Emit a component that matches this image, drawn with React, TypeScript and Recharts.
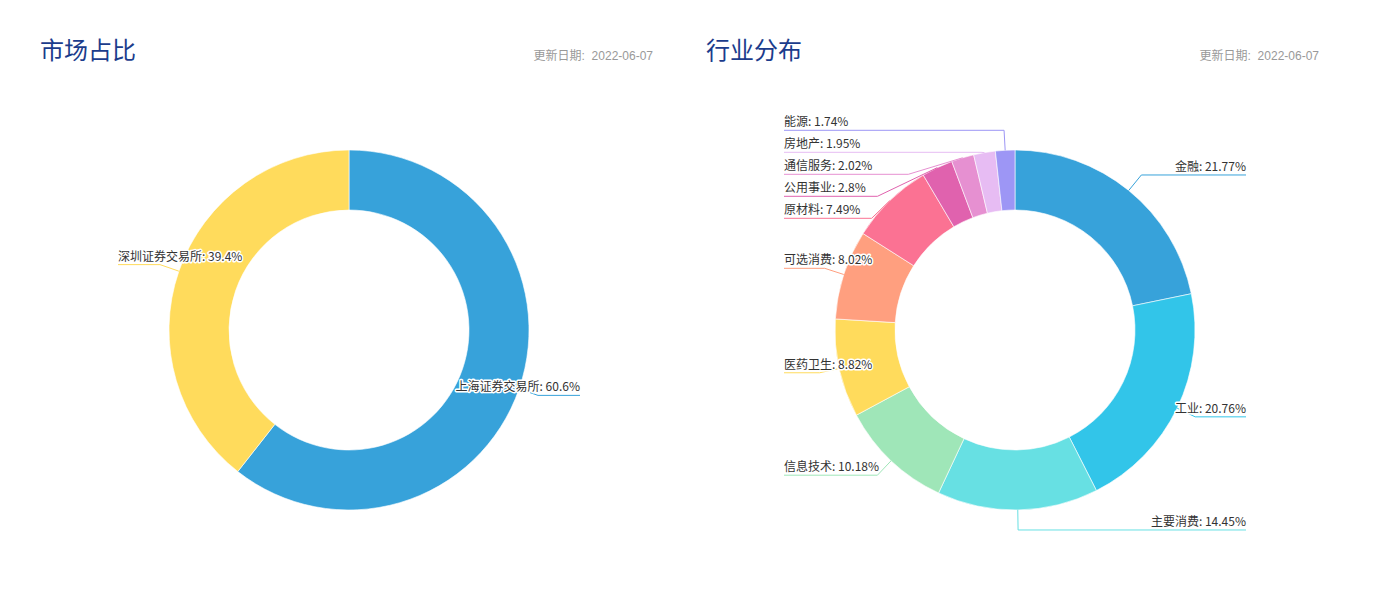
import { PieChart, Pie, Cell } from 'recharts';

const marketNames = ['上海证券交易所', '深圳证券交易所'];
const marketValues = [60.6, 39.4];
const marketColors = ['#37A2DA', '#FFDB5C'];

const industryNames = ['金融', '工业', '主要消费', '信息技术', '医药卫生', '可选消费', '原材料', '公用事业', '通信服务', '房地产', '能源'];
const industryValues = [21.77, 20.76, 14.45, 10.18, 8.82, 8.02, 7.49, 2.8, 2.02, 1.95, 1.74];
const industryColors = ['#37A2DA', '#32C5E9', '#67E0E3', '#9FE6B8', '#FFDB5C', '#ff9f7f', '#fb7293', '#E062AE', '#E690D1', '#e7bcf3', '#9d96f5'];

const updateDate = '2022-06-07';

const CX = 331;
const CY = 330;
const INNER = 120;
const OUTER = 180;
const LINE_LEN = 20;
const EDGE = 231;
const LABEL_GAP = 22;
const RAD = Math.PI / 180;

type Slot = { y: number; right: boolean };

// echarts-like label placement: natural spot at r + length, then push apart per side
function layoutLabels(values: number[]): Slot[] {
  const total = values.reduce((a, b) => a + b, 0);
  let acc = 0;
  const slots = values.map((v) => {
    const theta = ((acc + v / 2) / total) * 360 * RAD;
    acc += v;
    return { y: CY - (OUTER + LINE_LEN) * Math.cos(theta), right: Math.sin(theta) >= 0 };
  });
  [true, false].forEach((side) => {
    const idx = slots.map((s, i) => i).filter((i) => slots[i].right === side);
    idx.sort((a, b) => slots[a].y - slots[b].y);
    for (let k = 1; k < idx.length; k++) {
      const prev = slots[idx[k - 1]].y;
      if (slots[idx[k]].y < prev + LABEL_GAP) slots[idx[k]].y = prev + LABEL_GAP;
    }
  });
  return slots;
}

function makeLabel(slots: Slot[], names: string[], values: number[], colors: string[]) {
  return (props: any) => {
    const { cx, cy, midAngle, outerRadius, index } = props;
    const slot = slots[index];
    const ux = Math.cos(-midAngle * RAD);
    const uy = Math.sin(-midAngle * RAD);
    const x0 = cx + outerRadius * ux;
    const y0 = cy + outerRadius * uy;
    let x1 = cx + (outerRadius + LINE_LEN) * ux;
    const y1 = slot.y;
    const x2 = slot.right ? cx + EDGE : cx - EDGE;

    // keep the first segment from bending back into the ring
    const dx = x1 - x0;
    const dy = y1 - y0;
    const len = Math.hypot(dx, dy);
    if (len > 1e-3 && (dx * ux + dy * uy) / len < 0) {
      const dir2 = slot.right ? 1 : -1;
      const angle2 = Math.acos(dir2 * ux);
      const d = Math.abs(y1 - y0);
      if (angle2 >= Math.PI / 2) {
        x1 = x0;
      } else {
        const nx = x0 + dir2 * (d / Math.tan(Math.PI / 2 - angle2));
        const lo = Math.min(x1, x2);
        const hi = Math.max(x1, x2);
        x1 = Math.max(lo, Math.min(hi, nx));
      }
    }

    const color = colors[index];
    return (
      <g>
        <polyline
          points={`${x0},${y0} ${x1},${y1} ${x2},${y1}`}
          fill="none"
          stroke={color}
          strokeWidth={1}
        />
        <text
          x={x2}
          y={y1 - 4}
          textAnchor={slot.right ? 'end' : 'start'}
          fontSize={12}
          fill="#333"
          stroke="#fff"
          strokeWidth={3}
          strokeLinejoin="round"
          paintOrder="stroke"
          fontFamily="'Microsoft YaHei', 'Noto Sans CJK SC', sans-serif"
        >
          {`${names[index]}: ${values[index]}%`}
        </text>
      </g>
    );
  };
}

function DonutPanel({ title, left, names, values, colors }: { title: string; left: number; names: string[]; values: number[]; colors: string[] }) {
  const data = names.map((name, i) => ({ name, value: values[i] }));
  const slots = layoutLabels(values);
  return (
    <div style={{ position: 'absolute', left, top: 0, width: 664, height: 589 }}>
      <div
        style={{
          position: 'absolute',
          left: 22,
          top: 33,
          fontSize: 24,
          color: '#1b3c8c',
          fontFamily: "'Microsoft YaHei', 'Noto Sans CJK SC', sans-serif",
          lineHeight: '32px',
        }}
      >
        {title}
      </div>
      <div
        style={{
          position: 'absolute',
          right: 29,
          top: 48,
          fontSize: 12,
          color: '#999',
          fontFamily: "'Liberation Sans', 'Noto Sans CJK SC', sans-serif",
          lineHeight: '16px',
          whiteSpace: 'pre',
        }}
      >
        {`更新日期:  ${updateDate}`}
      </div>
      <PieChart width={664} height={589} margin={{ top: 0, right: 0, bottom: 0, left: 0 }}>
        <Pie
          data={data}
          dataKey="value"
          nameKey="name"
          cx={CX}
          cy={CY}
          innerRadius={INNER}
          outerRadius={OUTER}
          startAngle={90}
          endAngle={-270}
          stroke="#fff"
          strokeWidth={0.6}
          label={makeLabel(slots, names, values, colors)}
          labelLine={false}
          isAnimationActive={false}
        >
          {data.map((d, i) => (
            <Cell key={d.name} fill={colors[i]} />
          ))}
        </Pie>
      </PieChart>
    </div>
  );
}

export default function App() {
  return (
    <div style={{ position: 'absolute', left: 0, top: 0, width: 1385, height: 589, background: '#fff' }}>
      <DonutPanel title="市场占比" left={18} names={marketNames} values={marketValues} colors={marketColors} />
      <DonutPanel title="行业分布" left={684} names={industryNames} values={industryValues} colors={industryColors} />
    </div>
  );
}
